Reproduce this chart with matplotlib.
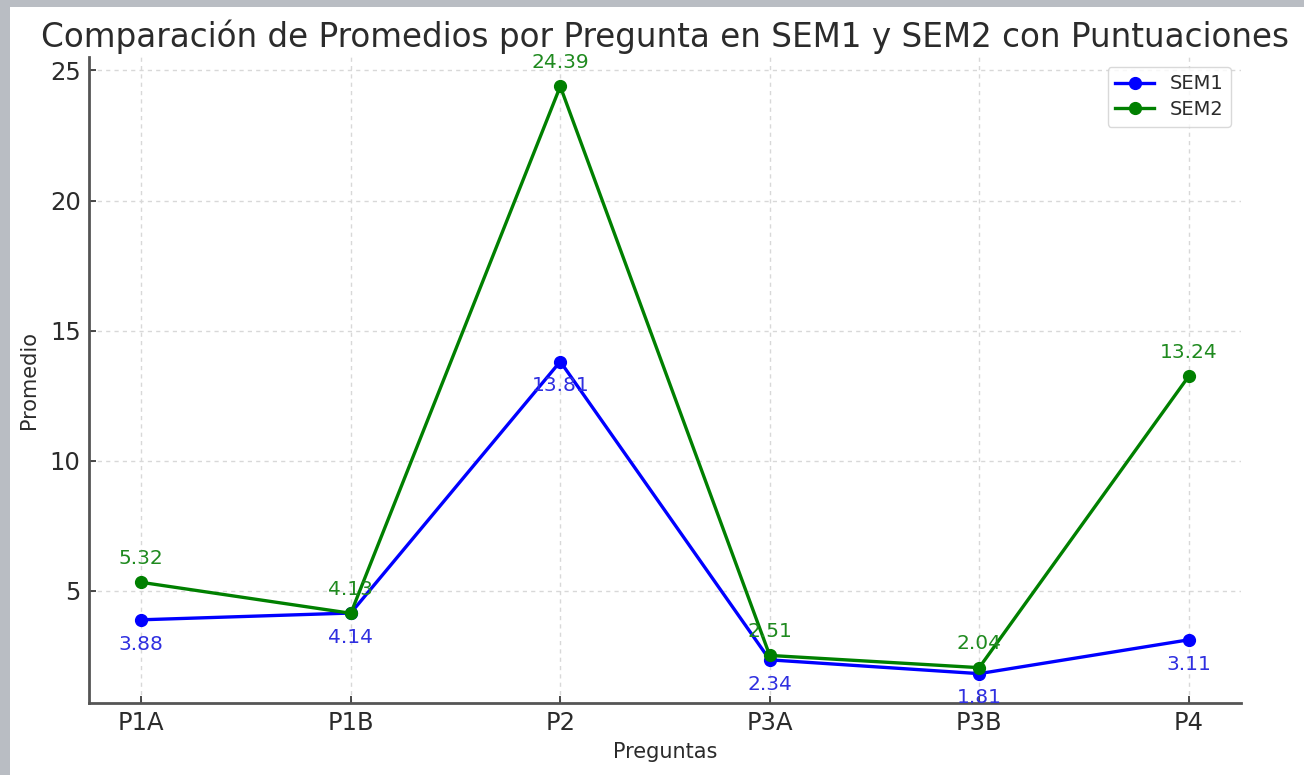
import numpy as np
import matplotlib
matplotlib.use("Agg")
import matplotlib.pyplot as plt
from matplotlib.patches import Rectangle

# Datos
preguntas = ['P1A', 'P1B', 'P2', 'P3A', 'P3B', 'P4']
sem1 = [3.88, 4.14, 13.81, 2.34, 1.81, 3.11]
sem2 = [5.32, 4.13, 24.39, 2.51, 2.04, 13.24]

plt.rcParams['font.family'] = 'DejaVu Sans'
text_col = '#2b2b2b'

fig = plt.figure(figsize=(13.04, 7.75), dpi=100)
fig.patch.set_facecolor('#b9bdc3')
# zona blanca (captura sobre fondo gris)
fig.add_artist(Rectangle((10 / 1304, 0), 1, 1 - 7 / 775, transform=fig.transFigure,
                         facecolor='white', edgecolor='none', zorder=-1))

ax = fig.add_axes([89 / 1304, 1 - 703 / 775, (1241 - 89) / 1304, (703 - 57) / 775])
ax.set_facecolor('white')

x = np.arange(len(preguntas))
ax.plot(x, sem1, color='blue', marker='o', lw=2.4, ms=8.5, label='SEM1')
ax.plot(x, sem2, color='green', marker='o', lw=2.4, ms=8.5, label='SEM2')

for xi, v in zip(x, sem1):
    ax.annotate(f'{v:.2f}', (xi, v), textcoords='offset points', xytext=(0, -21.5),
                ha='center', color='#2f2fe0', fontsize=14.5)
for xi, v in zip(x, sem2):
    ax.annotate(f'{v:.2f}', (xi, v), textcoords='offset points', xytext=(0, 13.5),
                ha='center', color='#1f8a1f', fontsize=14.5)

ax.set_xticks(x)
ax.set_xticklabels(preguntas)
ax.set_yticks([5, 10, 15, 20, 25])
ax.tick_params(labelsize=17.5, colors=text_col, direction='in', length=5, width=1.2, pad=6)

ax.set_title('Comparación de Promedios por Pregunta en SEM1 y SEM2 con Puntuaciones',
             fontsize=23.5, color=text_col, pad=7)
ax.set_xlabel('Preguntas', fontsize=15, color=text_col, labelpad=5)
ax.set_ylabel('Promedio', fontsize=15, color=text_col, labelpad=8)

ax.grid(True, linestyle=(0, (3, 3)), color='#d8d8d8', lw=1.0)
ax.set_axisbelow(True)
for s in ['top', 'right']:
    ax.spines[s].set_visible(False)
for s in ['left', 'bottom']:
    ax.spines[s].set_color('#555555')
    ax.spines[s].set_linewidth(2)

leg = ax.legend(loc='upper right', fontsize=14, frameon=True, borderpad=0.4,
                labelspacing=0.35)
leg.get_frame().set_edgecolor('#d0d0d0')
for t in leg.get_texts():
    t.set_color(text_col)

fig.savefig('out.png', dpi=100, facecolor=fig.get_facecolor())
